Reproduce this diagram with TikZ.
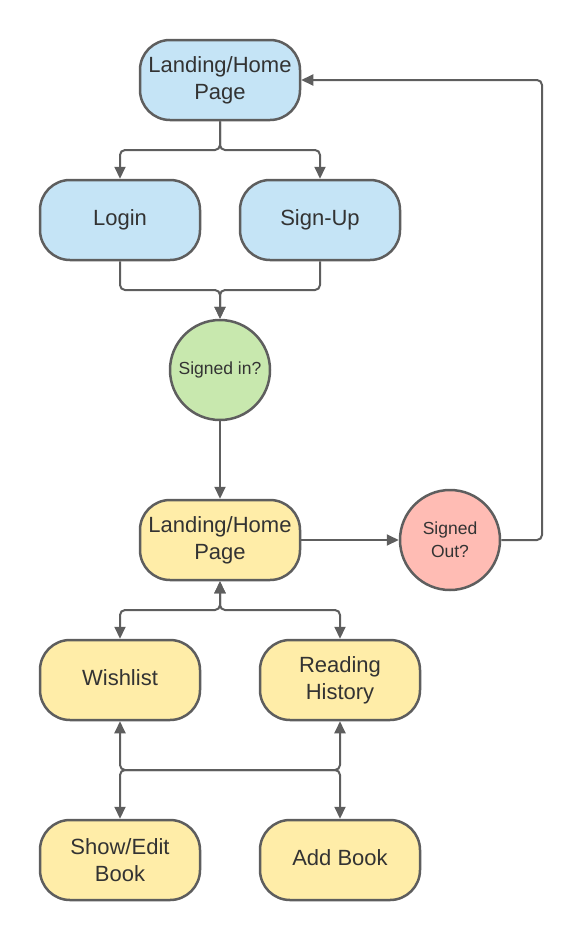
\documentclass[tikz,border=0pt]{standalone}
\usepackage{fontspec}
\setmainfont{Liberation Sans}
\usetikzlibrary{arrows.meta}
\definecolor{strokec}{HTML}{5E5E5E}
\definecolor{textc}{HTML}{333333}
\definecolor{bluef}{HTML}{C5E4F6}
\definecolor{greenf}{HTML}{C8E8AE}
\definecolor{yellowf}{HTML}{FFEDA8}
\definecolor{redf}{HTML}{FFBCB4}
\tikzset{
  box/.style={draw=strokec, line width=2.5pt, rounded corners=30pt, minimum width=160pt, minimum height=80pt, inner sep=0pt, align=center, text=textc, font=\fontsize{22}{27}\selectfont},
  oneline/.style={text height=15.8pt, text depth=4.6pt},
  decision/.style={draw=strokec, line width=2.5pt, circle, minimum size=100pt, inner sep=0pt, align=center, text=textc, font=\fontsize{17.5}{23}\selectfont},
  conn/.style={draw=strokec, line width=2pt, rounded corners=5pt},
  tip/.style={-{Triangle[length=12pt,width=11pt]}},
  tipboth/.style={{Triangle[length=12pt,width=11pt]}-{Triangle[length=12pt,width=11pt]}}
}
\begin{document}
\begin{tikzpicture}[x=1pt,y=-1pt]
\useasboundingbox (0,0) rectangle (582,940);
\node[box, fill=bluef] (home) at (220,80) {Landing/Home\\Page};
\node[box, oneline, fill=bluef] (login) at (120,220) {Login};
\node[box, oneline, fill=bluef] (signup) at (320,220) {Sign-Up};
\node[decision, fill=greenf] (signedin) at (220,370) {Signed in?};
\node[box, fill=yellowf] (home2) at (220,540) {Landing/Home\\Page};
\node[decision, fill=redf] (signedout) at (450,540) {Signed\\Out?};
\node[box, oneline, fill=yellowf] (wish) at (120,680) {Wishlist};
\node[box, fill=yellowf] (hist) at (340,680) {Reading\\History};
\node[box, fill=yellowf] (show) at (120,860) {Show/Edit\\Book};
\node[box, oneline, fill=yellowf] (add) at (340,860) {Add Book};
\coordinate (j1) at (220,150);
\coordinate (j2) at (220,290);
\coordinate (j3) at (220,610);
\coordinate (j4l) at (120,770);
\coordinate (j4r) at (340,770);
\coordinate (c1) at (542,540);
\coordinate (c2) at (542,80);

\draw[conn, tip] (home.south) -- (j1) -- (120,150) -- (login.north);
\draw[conn, tip] (home.south) -- (j1) -- (320,150) -- (signup.north);
\draw[conn, tip] (login.south) -- (120,290) -- (j2) -- (signedin.north);
\draw[conn, tip] (signup.south) -- (320,290) -- (j2) -- (signedin.north);
\draw[conn, tip] (signedin.south) -- (home2.north);
\draw[conn, tip] (home2.east) -- (signedout.west);
\draw[conn, tip] (signedout.east) -- (c1) -- (c2) -- (home.east);
\draw[conn, tipboth] (home2.south) -- (j3) -- (120,610) -- (wish.north);
\draw[conn, tipboth] (home2.south) -- (j3) -- (340,610) -- (hist.north);
\draw[conn, tipboth] (wish.south) -- (j4l) -- (j4r) -- (add.north);
\draw[conn, tipboth] (hist.south) -- (j4r) -- (j4l) -- (show.north);
\end{tikzpicture}
\end{document}
